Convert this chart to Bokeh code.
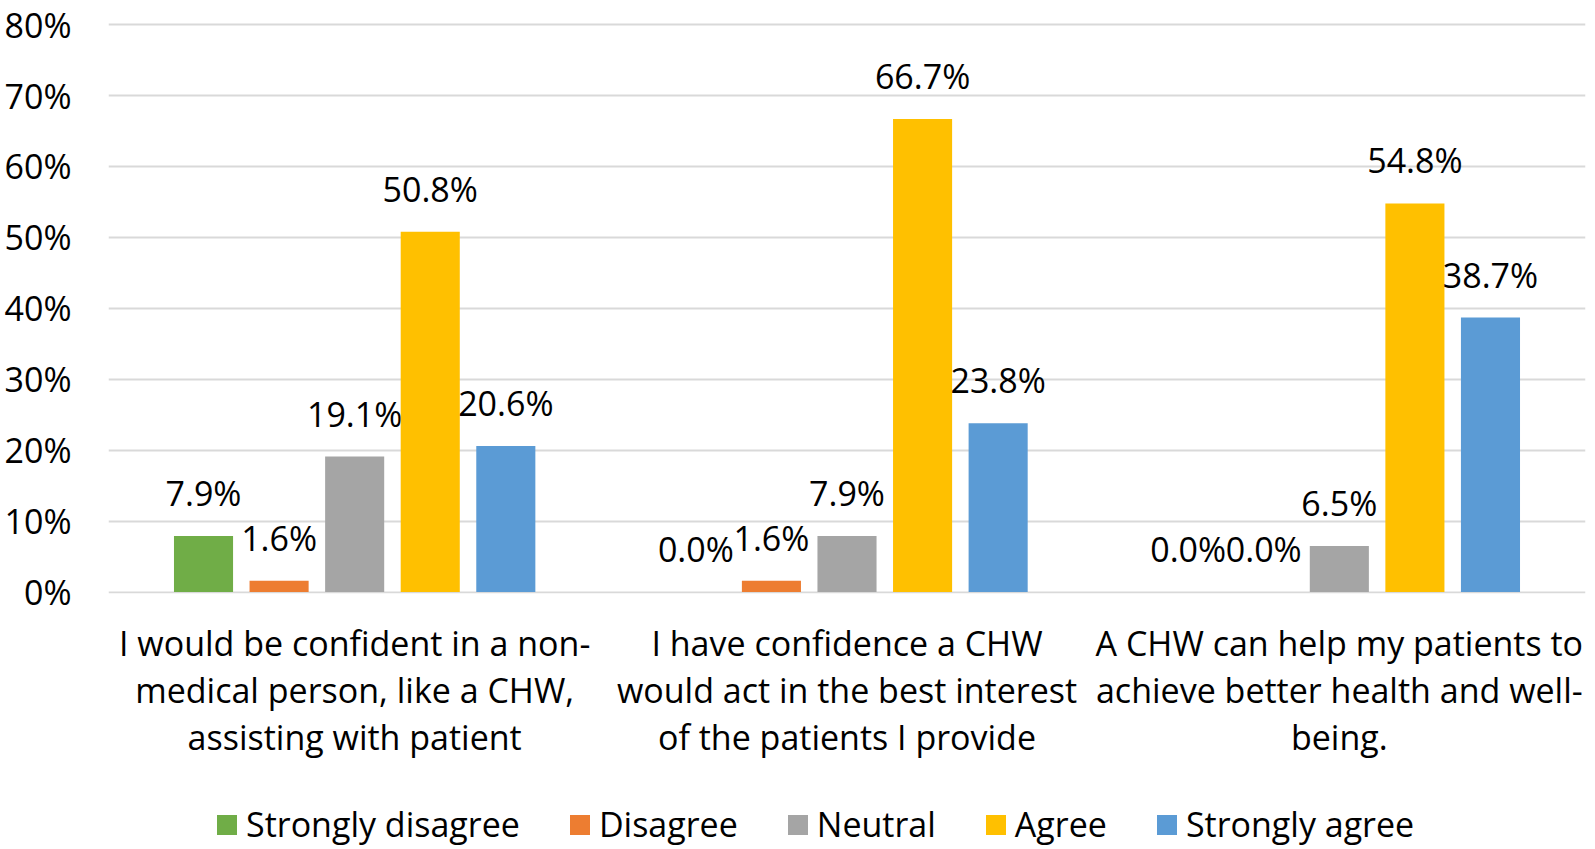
from bokeh.plotting import figure
from bokeh.layouts import column
from bokeh.models import ColumnDataSource, FactorRange, Range1d, Legend, LegendItem, NumeralTickFormatter, FixedTicker
from bokeh.transform import dodge
from bokeh.core.properties import value
from bokeh.embed import file_html
from bokeh.resources import INLINE

categories = [
    "I would be confident in a non-\nmedical person, like a CHW,\nassisting with patient",
    "I have confidence a CHW\nwould act in the best interest\nof the patients I provide",
    "A CHW can help my patients to\nachieve better health and well-\nbeing.",
]
series_names = ["Strongly disagree", "Disagree", "Neutral", "Agree", "Strongly agree"]
strongly_disagree = [0.079, 0.000, 0.000]
disagree = [0.016, 0.016, 0.000]
neutral = [0.191, 0.079, 0.065]
agree = [0.508, 0.667, 0.548]
strongly_agree = [0.206, 0.238, 0.387]
colors = ["#70AD47", "#ED7D31", "#A5A5A5", "#FFC000", "#5B9BD5"]
y_ticks = [0, 0.1, 0.2, 0.3, 0.4, 0.5, 0.6, 0.7, 0.8]

FONT = "Open Sans"
FS = "34px"
W = 1595
H_MAIN = 618
H_FOOT = 231
LEFT, RIGHT = 108, 10

data = {"cat": categories}
all_series = [strongly_disagree, disagree, neutral, agree, strongly_agree]
for i, s in enumerate(all_series):
    data[f"s{i}"] = s
    data[f"l{i}"] = [f"{v*100:.1f}%" for v in s]
src = ColumnDataSource(data)

xr = FactorRange(*categories)

# ---- main chart (bars, value labels, y axis) ----
p = figure(x_range=xr, y_range=Range1d(-0.002, 0.803), x_axis_location=None,
           width=W, height=H_MAIN, output_backend="svg", toolbar_location=None,
           min_border_left=LEFT, min_border_right=RIGHT, min_border_top=22, min_border_bottom=25)
p.outline_line_color = None
p.background_fill_color = "white"
p.border_fill_color = "white"

step = 0.1535
bw = 0.12
for i, s in enumerate(all_series):
    off = (i - 2) * step
    p.vbar(x=dodge("cat", off, range=xr), top=f"s{i}", bottom=0, width=bw, source=src,
           fill_color=colors[i], line_color=None)
    p.text(x=dodge("cat", off, range=xr), y=f"s{i}", text=f"l{i}", source=src,
           text_align="center", text_baseline="alphabetic", y_offset=-43,
           text_font=value(FONT), text_font_size=FS, text_color="#000000")

p.yaxis.ticker = FixedTicker(ticks=y_ticks)
p.yaxis.formatter = NumeralTickFormatter(format="0%")
p.yaxis.axis_line_color = None
p.yaxis.major_tick_line_color = None
p.yaxis.minor_tick_line_color = None
p.yaxis.major_tick_out = 0
p.yaxis.major_tick_in = 0
p.yaxis.minor_tick_out = 0
p.yaxis.major_label_text_font = FONT
p.yaxis.major_label_text_font_size = FS
p.yaxis.major_label_text_color = "#000000"
p.yaxis.major_label_standoff = 37

p.xgrid.grid_line_color = None
p.ygrid.grid_line_color = "#D9D9D9"
p.ygrid.grid_line_width = 2

# ---- footer: category labels and legend ----
ft = figure(x_range=xr, y_range=Range1d(0, H_FOOT), x_axis_location=None, y_axis_location=None,
            width=W, height=H_FOOT, output_backend="svg", toolbar_location=None,
            min_border_left=LEFT, min_border_right=RIGHT, min_border_top=0, min_border_bottom=0)
ft.grid.grid_line_color = None
ft.outline_line_color = None
ft.background_fill_color = "white"
ft.border_fill_color = "white"

ft.text(x="cat", y=159.5, text="cat", source=src,
        text_align="center", text_baseline="middle", text_line_height=1.02,
        text_font=value(FONT), text_font_size=FS, text_color="#000000")

items = []
for i, name in enumerate(series_names):
    r = ft.vbar(x="cat", top=f"s{i}", width=bw, source=src,
                fill_color=colors[i], line_color=None, visible=False)
    items.append(LegendItem(label=name, renderers=[r]))
legend = Legend(items=items, orientation="horizontal", location=(106, 2),
                label_text_font=FONT, label_text_font_size=FS, label_text_color="#000000",
                glyph_width=25, glyph_height=25, label_standoff=7, spacing=47,
                padding=0, margin=0, border_line_color=None, background_fill_alpha=0,
                inactive_fill_alpha=0)
ft.add_layout(legend, "center")

layout = column(p, ft, spacing=0)
open("out.html", "w").write(file_html(layout, INLINE))
